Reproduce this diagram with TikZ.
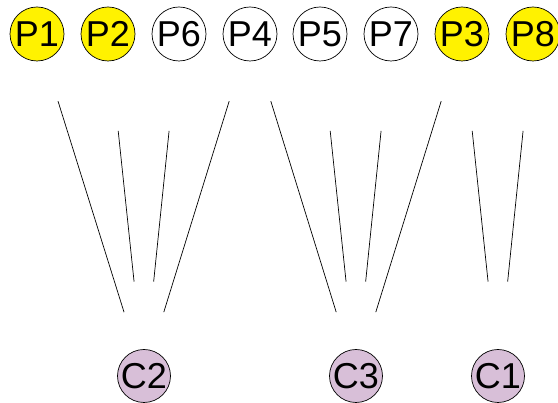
\documentclass[tikz,border=0pt]{standalone}
\usepackage{fontspec}
\setmainfont{Liberation Sans}
\definecolor{cpurple}{RGB}{216,191,216}
\begin{document}
\begin{tikzpicture}[x=1pt,y=1pt,
  pn/.style={circle,draw,line width=0.7pt,inner sep=0pt,minimum size=54pt,font=\fontsize{36}{36}\selectfont},
  hot/.style={pn,fill=yellow},
  cold/.style={pn,fill=white},
  cn/.style={pn,fill=cpurple,minimum size=53pt},
  edge/.style={line width=0.7pt},
  outerline/.style={edge,shorten <=43pt,shorten >=40pt},
  innerline/.style={edge,shorten <=70pt,shorten >=68pt}]
\useasboundingbox (0,0) rectangle (558,403);
\node[hot]  (P1) at (37,369)  {P1};
\node[hot]  (P2) at (108,369) {P2};
\node[cold] (P6) at (179,369) {P6};
\node[cold] (P4) at (250,369) {P4};
\node[cold] (P5) at (320,369) {P5};
\node[cold] (P7) at (391,369) {P7};
\node[hot]  (P3) at (462,369) {P3};
\node[hot]  (P8) at (533,369) {P8};
\node[cn] (C2) at (144,27) {C2};
\node[cn] (C3) at (356,27) {C3};
\node[cn] (C1) at (498,27) {C1};
\draw[outerline] (P1) -- (C2);
\draw[innerline] (P2) -- (C2);
\draw[innerline] (P6) -- (C2);
\draw[outerline] (P4) -- (C2);
\draw[outerline] (P4) -- (C3);
\draw[innerline] (P5) -- (C3);
\draw[innerline] (P7) -- (C3);
\draw[outerline] (P3) -- (C3);
\draw[innerline] (P3) -- (C1);
\draw[innerline] (P8) -- (C1);
\end{tikzpicture}
\end{document}
